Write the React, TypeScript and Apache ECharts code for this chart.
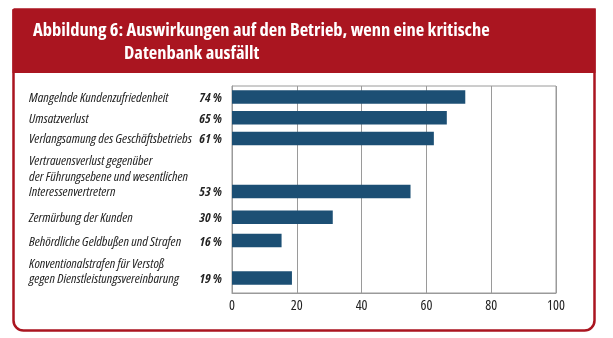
import React, { useEffect, useRef } from "react";
import * as echarts from "echarts";

// ---- data ----
const titleLine1 = "Abbildung 6: Auswirkungen auf den Betrieb, wenn eine kritische";
const titleLine2 = "Datenbank ausfällt";
const categories = [
  "Mangelnde Kundenzufriedenheit",
  "Umsatzverlust",
  "Verlangsamung des Geschäftsbetriebs",
  "Vertrauensverlust gegenüber\nder Führungsebene und wesentlichen\nInteressenvertretern",
  "Zermürbung der Kunden",
  "Behördliche Geldbußen und Strafen",
  "Konventionalstrafen für Verstoß\ngegen Dienstleistungsvereinbarung",
];
const percentLabels = ["74 %", "65 %", "61 %", "53 %", "30 %", "16 %", "19 %"];
const barValues = [72, 66.3, 62.3, 55.1, 31.1, 15.3, 18.5];
const xTicks = [0, 20, 40, 60, 80, 100];

// ---- layout (slots on the category axis) ----
const SLOT_COUNT = 160;
const rowSlots = [8, 24, 40, 81, 101, 119, 148];
const LINE_STEP = 12;

const FONT = "'Open Sans', sans-serif";
// condensed width for axis texts (SVG renderer writes the family into a style attribute)
const FONT_COND = "Open Sans;font-stretch:condensed";
const RED = "#aa1520";
const BLUE = "#1c4f74";
const GRID = "#9a9a9a";

function buildSlots() {
  const names: string[] = new Array(SLOT_COUNT).fill("");
  const pcts: string[] = new Array(SLOT_COUNT).fill("");
  const vals: (number | string)[] = new Array(SLOT_COUNT).fill("-");
  categories.forEach((c, i) => {
    const lines = c.split("\n").reverse();
    lines.forEach((ln, k) => {
      names[rowSlots[i] - k * LINE_STEP] = ln;
    });
    pcts[rowSlots[i]] = percentLabels[i];
    vals[rowSlots[i]] = barValues[i];
  });
  const slotIds = names.map((_, i) => "s" + i);
  return { names, pcts, vals, slotIds };
}

export default function App() {
  const ref = useRef<HTMLDivElement>(null);
  useEffect(() => {
    if (!ref.current) return;
    const chart = echarts.init(ref.current, null, { renderer: "svg" });
    const { names, pcts, vals, slotIds } = buildSlots();
    chart.setOption({
      animation: false,
      graphic: [
        {
          type: "rect",
          z: -10,
          shape: { x: 13.5, y: 9.5, width: 581, height: 321, r: [0, 0, 10, 10] },
          style: { fill: "#fff", stroke: RED, lineWidth: 2.5 },
        },
        {
          type: "rect",
          z: -9,
          shape: { x: 12.5, y: 9, width: 583, height: 64 },
          style: { fill: RED },
        },
        {
          type: "text",
          x: 33,
          y: 19,
          style: {
            text: titleLine1,
            fill: "#fff",
            font: `bold condensed 18.5px ${FONT}`,
          },
        },
        {
          type: "text",
          x: 124,
          y: 42,
          style: {
            text: titleLine2,
            fill: "#fff",
            font: `bold condensed 18.5px ${FONT}`,
          },
        },
      ],
      grid: {
        left: 232,
        top: 86,
        width: 324,
        height: 207,
        show: true,
        borderColor: GRID,
        borderWidth: 1,
        backgroundColor: "transparent",
      },
      xAxis: {
        type: "value",
        min: xTicks[0],
        max: xTicks[xTicks.length - 1],
        interval: 20,
        axisLine: { show: true, lineStyle: { color: GRID } },
        axisTick: { show: false },
        splitLine: { show: true, lineStyle: { color: GRID, width: 1 } },
        axisLabel: {
          color: "#222",
          fontFamily: FONT_COND,
          fontSize: 14,
          margin: 6,
        },
      },
      yAxis: [
        {
          type: "category",
          inverse: true,
          data: slotIds,
          axisLine: { show: true, lineStyle: { color: GRID } },
          axisTick: { show: false },
          splitLine: { show: false },
          axisLabel: {
            interval: 0,
            align: "left",
            margin: 203,
            color: "#222",
            fontFamily: FONT_COND,
            fontStyle: "italic",
            fontSize: 13.5,
            formatter: (_v: string, idx: number) => names[idx],
          },
        },
        {
          type: "category",
          inverse: true,
          position: "left",
          data: slotIds,
          axisLine: { show: false },
          axisTick: { show: false },
          splitLine: { show: false },
          axisLabel: {
            interval: 0,
            align: "right",
            margin: 10,
            color: "#222",
            fontFamily: FONT_COND,
            fontStyle: "italic",
            fontWeight: "bold",
            fontSize: 13,
            formatter: (_v: string, idx: number) => pcts[idx],
          },
        },
      ],
      series: [
        {
          type: "bar",
          yAxisIndex: 0,
          data: vals,
          barWidth: 13.5,
          itemStyle: { color: BLUE },
        },
      ],
    });
    return () => chart.dispose();
  }, []);
  return (
    <div
      ref={ref}
      style={{ position: "fixed", left: 0, top: 0, width: 613, height: 338 }}
    />
  );
}
